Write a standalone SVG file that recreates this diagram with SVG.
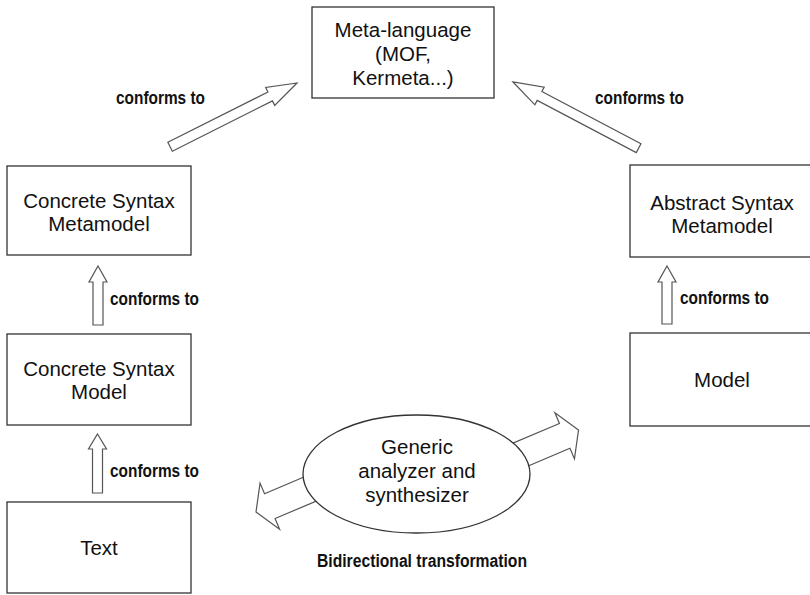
<svg xmlns="http://www.w3.org/2000/svg" width="810" height="595" viewBox="0 0 810 595">
  <style>
    .box { fill: #ffffff; stroke: #333333; stroke-width: 1.3; }
    .ell { fill: #ffffff; stroke: #333333; stroke-width: 1.3; }
    .blk { fill: #ffffff; stroke: #555555; stroke-width: 1.2; stroke-linejoin: miter; }
    .t { font-family: "Liberation Sans", Arial, sans-serif; font-size: 20.5px; fill: #111111; text-anchor: middle; }
    .lbl { font-family: "Liberation Sans", Arial, sans-serif; font-size: 17.5px; font-weight: bold; fill: #111111; }
  </style>
  <defs>
    <!-- slim block arrow, tip at origin, pointing along +x -->
    <polygon id="slim" points="0,0 -30,-10 -30,-5 -142,-5 -142,5 -30,5 -30,10"/>
    <!-- wide block arrow leaving the ellipse -->
    <polygon id="wide" points="0,0 -15,-25 -15,-13.5 -70,-13.5 -70,13.5 -15,13.5 -15,25"/>
  </defs>

  <g id="connectors">
    <use href="#slim" class="blk" transform="translate(297,83) rotate(-26.65)"/>
    <use href="#slim" class="blk" transform="translate(513,82) rotate(-152.2)"/>
    <polygon class="blk" points="98,266 107,282 103,282 103,325 93,325 93,282 89,282"/>
    <polygon class="blk" points="97.5,434 106.5,449 102.5,449 102.5,493 92.5,493 92.5,449 88.5,449"/>
    <polygon class="blk" points="667,266 676,282 672,282 672,324 662,324 662,282 658,282"/>
    <use href="#wide" class="blk" transform="translate(256,512) rotate(157)"/>
    <use href="#wide" class="blk" transform="translate(578.5,430) rotate(-23)"/>
    <text class="lbl" x="116" y="104" textLength="89" lengthAdjust="spacingAndGlyphs">conforms to</text>
    <text class="lbl" x="595" y="104" textLength="89" lengthAdjust="spacingAndGlyphs">conforms to</text>
    <text class="lbl" x="110" y="305" textLength="89" lengthAdjust="spacingAndGlyphs">conforms to</text>
    <text class="lbl" x="110" y="477" textLength="89" lengthAdjust="spacingAndGlyphs">conforms to</text>
    <text class="lbl" x="680" y="304" textLength="89" lengthAdjust="spacingAndGlyphs">conforms to</text>
    <text class="lbl" x="317" y="567" textLength="210" lengthAdjust="spacingAndGlyphs">Bidirectional transformation</text>
  </g>

  <g id="meta-language">
    <rect class="box" x="312" y="7" width="182" height="91"/>
    <text class="t" x="403" y="37">Meta-language</text>
    <text class="t" x="403" y="61">(MOF,</text>
    <text class="t" x="403" y="85">Kermeta...)</text>
  </g>

  <g id="concrete-syntax-metamodel">
    <rect class="box" x="7" y="166" width="184" height="89"/>
    <text class="t" x="99" y="208">Concrete Syntax</text>
    <text class="t" x="99" y="231">Metamodel</text>
  </g>

  <g id="concrete-syntax-model">
    <rect class="box" x="7" y="334" width="184" height="91"/>
    <text class="t" x="99" y="376">Concrete Syntax</text>
    <text class="t" x="99" y="399">Model</text>
  </g>

  <g id="text">
    <rect class="box" x="7" y="502" width="184" height="91"/>
    <text class="t" x="99" y="555">Text</text>
  </g>

  <g id="abstract-syntax-metamodel">
    <rect class="box" x="630" y="165" width="186" height="92"/>
    <text class="t" x="722" y="210">Abstract Syntax</text>
    <text class="t" x="722" y="233">Metamodel</text>
  </g>

  <g id="model">
    <rect class="box" x="630" y="333" width="186" height="93"/>
    <text class="t" x="722" y="387">Model</text>
  </g>

  <g id="analyzer">
    <ellipse class="ell" cx="416.5" cy="474" rx="113.5" ry="59"/>
    <text class="t" x="417" y="454">Generic</text>
    <text class="t" x="417" y="478">analyzer and</text>
    <text class="t" x="417" y="502">synthesizer</text>
  </g>
</svg>
